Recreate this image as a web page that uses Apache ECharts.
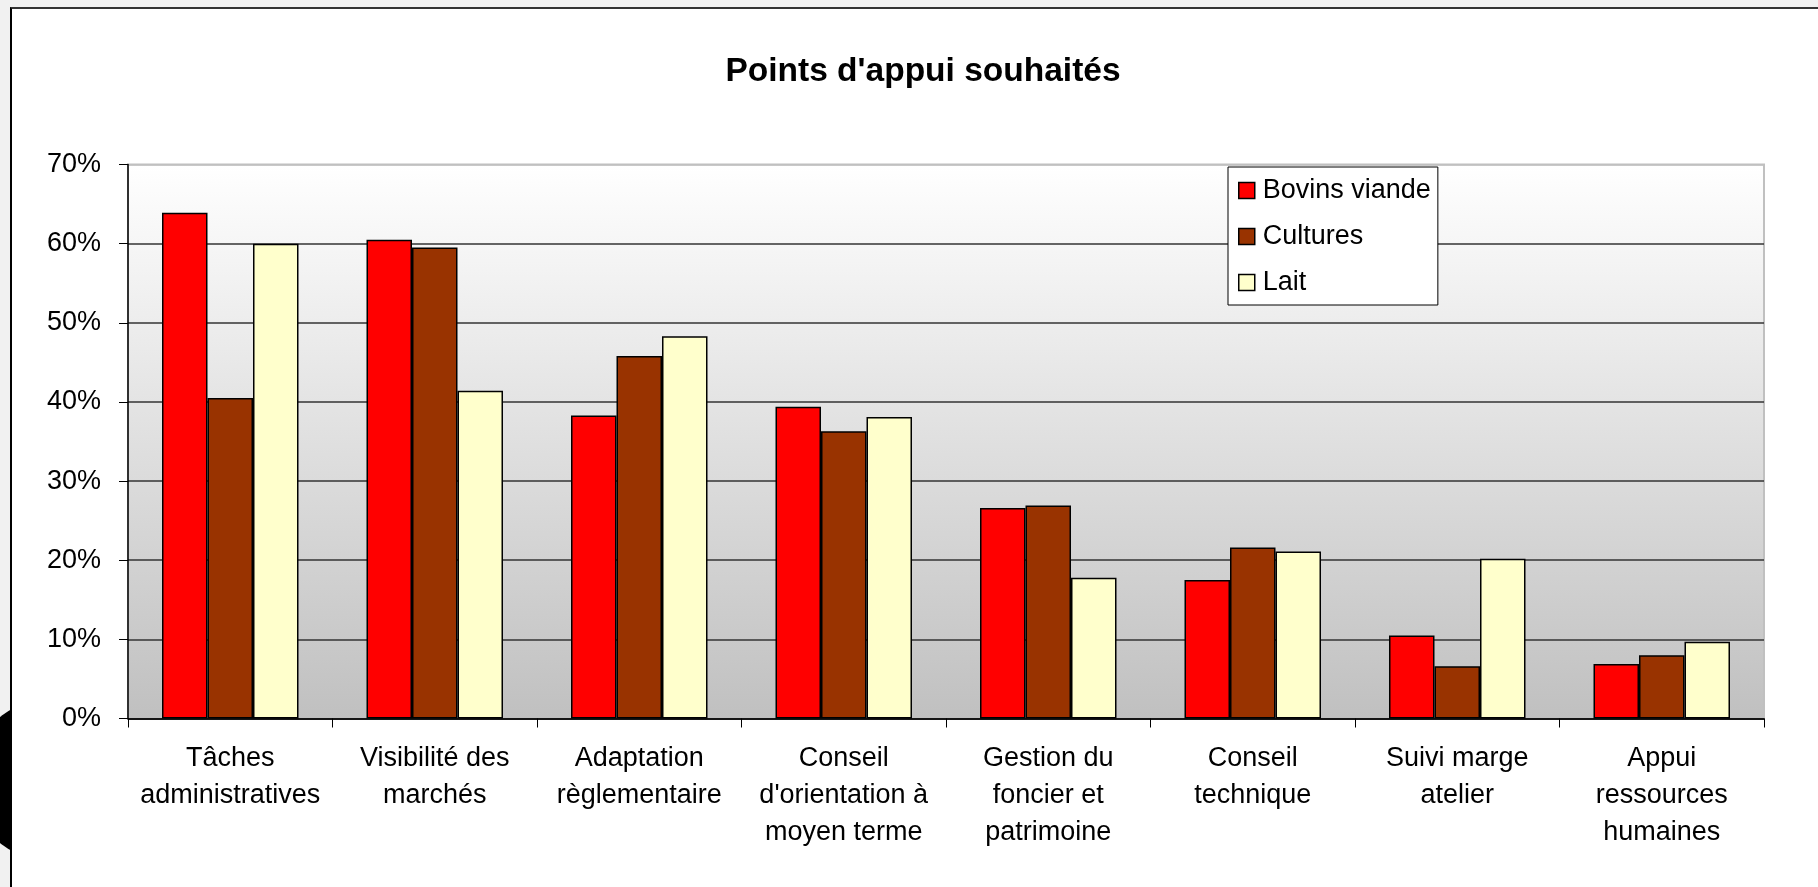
<!DOCTYPE html>
<html>
<head>
<meta charset="utf-8">
<title>Points d'appui souhaités</title>
<script src="https://cdn.jsdelivr.net/npm/echarts@6/dist/echarts.min.js"></script>
<style>
  html, body {
    margin: 0;
    padding: 0;
    width: 1818px;
    height: 887px;
    overflow: hidden;
    background: #f1f1f1;
  }
  .blob {
    position: absolute;
    left: -28px;
    top: 702px;
    width: 136px;
    height: 156px;
    border-radius: 50%;
    background: #000;
  }
  .frame {
    position: absolute;
    left: 10px;
    top: 7px;
    width: 1830px;
    height: 900px;
    background: #fff;
    border-left: 2px solid #000;
    border-top: 2px solid #333;
  }
  #pointsChart {
    position: absolute;
    left: 0;
    top: 0;
    width: 1818px;
    height: 887px;
  }
</style>
</head>
<body>
<div class="blob"></div>
<div class="frame"></div>
<div id="pointsChart"></div>

<script>
  // categories (x axis)
  const categories = [
    "Tâches\nadministratives",
    "Visibilité des\nmarchés",
    "Adaptation\nrèglementaire",
    "Conseil\nd'orientation à\nmoyen terme",
    "Gestion du\nfoncier et\npatrimoine",
    "Conseil\ntechnique",
    "Suivi marge\natelier",
    "Appui\nressources\nhumaines",
  ];

  // values in %
  const bovinsViande = [63.9, 60.5, 38.3, 39.4, 26.6, 17.5, 10.5, 6.9];
  const cultures = [40.5, 59.5, 45.8, 36.3, 26.9, 21.6, 6.6, 8.0];
  const lait = [60.0, 41.4, 48.3, 38.1, 17.8, 21.1, 20.2, 9.7];

  const seriesNames = ["Bovins viande", "Cultures", "Lait"];
  const seriesColors = ["#ff0000", "#993300", "#ffffcc"];

  // y axis ticks : 0% .. 70%
  const yTicks = [0, 10, 20, 30, 40, 50, 60, 70];

  const FONT = "'Liberation Sans', Arial, sans-serif";

  const chart = echarts.init(document.getElementById("pointsChart"), null, {
    renderer: "canvas",
  });

  const barStyle = (color) => ({
    color: color,
    borderColor: "#000",
    borderWidth: 1.5,
  });

  const option = {
    backgroundColor: "transparent",
    animation: false,
    title: {
      text: "Points d'appui souhaités",
      left: 918,
      top: 50,
      textAlign: "center",
      textStyle: {
        fontFamily: FONT,
        fontWeight: "bold",
        fontSize: 33.5,
        color: "#000",
      },
    },
    legend: {
      orient: "vertical",
      left: 1228,
      top: 167,
      padding: [10, 7, 9, 10],
      itemGap: 19,
      itemWidth: 16,
      itemHeight: 16,
      icon: "rect",
      backgroundColor: "#fff",
      borderColor: "#000",
      borderWidth: 1,
      borderRadius: 0,
      itemStyle: { borderColor: "#000", borderWidth: 1.5 },
      textStyle: {
        fontFamily: FONT,
        fontSize: 27,
        color: "#000",
        padding: [0, 0, 0, 3],
      },
      data: seriesNames,
    },
    grid: {
      left: 128,
      right: 54,
      top: 164.5,
      bottom: 168.5,
      show: true,
      borderColor: "#c0c0c0",
      borderWidth: 2,
      backgroundColor: new echarts.graphic.LinearGradient(0, 0, 0, 1, [
        { offset: 0, color: "#ffffff" },
        { offset: 1, color: "#c0c0c0" },
      ]),
    },
    xAxis: {
      type: "category",
      data: categories,
      axisLine: { lineStyle: { color: "#000", width: 1.5 } },
      axisTick: { show: true, length: 9, lineStyle: { color: "#000", width: 1 } },
      axisLabel: {
        interval: 0,
        margin: 22,
        fontFamily: FONT,
        fontSize: 27,
        lineHeight: 37,
        color: "#000",
        align: "center",
      },
    },
    yAxis: {
      type: "value",
      min: yTicks[0],
      max: yTicks[yTicks.length - 1],
      interval: 10,
      axisLine: { show: true, lineStyle: { color: "#000", width: 1.5 } },
      axisTick: { show: true, length: 9, lineStyle: { color: "#000", width: 1 } },
      axisLabel: {
        margin: 27,
        fontFamily: FONT,
        fontSize: 27,
        color: "#000",
        formatter: "{value}%",
      },
      splitLine: {
        show: true,
        lineStyle: {
          // la ligne du haut (70%) reste grise comme le cadre
          color: ["#333", "#333", "#333", "#333", "#333", "#333", "#333", "#c0c0c0"],
          width: 1.5,
        },
      },
    },
    series: [
      {
        name: seriesNames[0],
        type: "bar",
        data: bovinsViande,
        barWidth: 45.5,
        barGap: "0%",
        itemStyle: barStyle(seriesColors[0]),
      },
      {
        name: seriesNames[1],
        type: "bar",
        data: cultures,
        barWidth: 45.5,
        barGap: "0%",
        itemStyle: barStyle(seriesColors[1]),
      },
      {
        name: seriesNames[2],
        type: "bar",
        data: lait,
        barWidth: 45.5,
        barGap: "0%",
        itemStyle: barStyle(seriesColors[2]),
      },
    ],
  };

  chart.setOption(option);
</script>
</body>
</html>
